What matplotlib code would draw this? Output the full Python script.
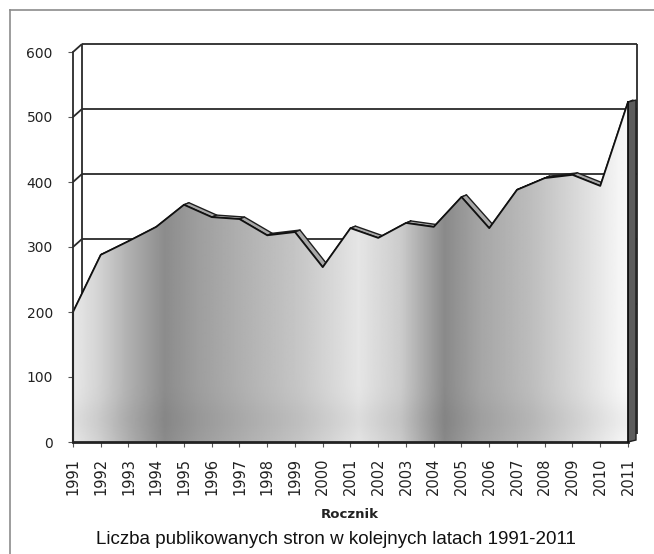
import numpy as np
import matplotlib
matplotlib.use("Agg")
import matplotlib.pyplot as plt
from matplotlib.patches import Polygon

# ---- data ----
years = list(range(1991, 2012))
pages = [200, 288, 309, 331, 365, 346, 343, 318, 323, 269, 329,
         314, 337, 331, 377, 329, 388, 406, 411, 394, 523]
y_ticks = [0, 100, 200, 300, 400, 500, 600]
x_label = "Rocznik"
caption = "Liczba publikowanych stron w kolejnych latach 1991-2011"

# ---- figure ----
W, H = 654, 554
fig = plt.figure(figsize=(W / 100, H / 100), dpi=100)
fig.patch.set_facecolor("white")

x0_px, x1_px, y0_px, y1_px = 73, 628, 442, 52
ax = fig.add_axes([x0_px / W, 1 - y0_px / H, (x1_px - x0_px) / W, (y0_px - y1_px) / H])
ax.set_xlim(years[0], years[-1])
ax.set_ylim(0, 600)
ax.set_facecolor("none")
for s in ax.spines.values():
    s.set_visible(False)

px_x = (x1_px - x0_px) / (years[-1] - years[0])   # px per year
px_y = (y0_px - y1_px) / 600.0                    # px per unit

# 3D offsets
dxw, dyw = 9 / px_x, 8 / px_y     # back wall
dxs, dys = 5 / px_x, 2 / px_y     # series depth (top ribbon)
dxf = 8 / px_x                    # right side face width

xs = np.array(years, dtype=float)
vs = np.array(pages, dtype=float)
xa, xb = xs[0], xs[-1]

wall_kw = dict(color="#2a2a2a", lw=1.3, zorder=1, clip_on=False, solid_capstyle="butt")
# back wall gridlines
for t in y_ticks[1:]:
    ax.plot([xa + dxw, xb + dxw], [t + dyw, t + dyw], **wall_kw)
    ax.plot([xa, xa + dxw], [t, t + dyw], **wall_kw)
ax.plot([xa + dxw, xa + dxw], [dyw, 600 + dyw], **wall_kw)
ax.plot([xb + dxw, xb + dxw], [dyw, 600 + dyw], **wall_kw)
# front axis line
ax.plot([xa, xa], [0, 600], color="#2a2a2a", lw=1.3, zorder=5, clip_on=False)

# top ribbon of the series
for i in range(len(xs) - 1):
    quad = [(xs[i], vs[i]), (xs[i + 1], vs[i + 1]),
            (xs[i + 1] + dxs, vs[i + 1] + dys), (xs[i] + dxs, vs[i] + dys)]
    ax.add_patch(Polygon(quad, closed=True, facecolor="#a8a8a8", edgecolor="#1e1e1e",
                         lw=1.0, zorder=2, clip_on=False, joinstyle="round"))

# right side face
side = [(xb, vs[-1]), (xb + dxf, vs[-1] + dys), (xb + dxf, dys), (xb, 0)]
ax.add_patch(Polygon(side, closed=True, facecolor="#5c5c5c", edgecolor="#1e1e1e",
                     lw=1.0, zorder=2, clip_on=False))

# front face with horizontal gradient
area = [(xa, 0)] + list(zip(xs, vs)) + [(xb, 0)]
poly = Polygon(area, closed=True, facecolor="none", edgecolor="none", zorder=3)
ax.add_patch(poly)
stops_x = [1991.0, 1991.9, 1993.0, 1994.3, 1995.5, 1997.3, 1999.2, 2001.3,
           2002.8, 2004.4, 2005.7, 2007.5, 2009.3, 2010.7, 2011.0]
stops_v = [0.91, 0.83, 0.69, 0.55, 0.62, 0.70, 0.78, 0.90,
           0.80, 0.54, 0.65, 0.74, 0.86, 0.96, 0.97]
gx = np.linspace(xa, xb, 600)
gv = np.interp(gx, stops_x, stops_v)
gy = np.linspace(0, 1, 60)
img = gv[None, :] * (1.0 - 0.04 * np.exp(-((gy[:, None] - 0.05) / 0.05) ** 2))
im = ax.imshow(img, extent=(xa, xb, 0, 600), origin="lower", aspect="auto",
               cmap="gray", vmin=0, vmax=1, zorder=3, interpolation="bilinear")
im.set_clip_path(poly)

# front outline
ax.plot(xs, vs, color="#111111", lw=1.3, zorder=4, clip_on=False, solid_joinstyle="round")
ax.plot([xa, xb], [0, 0], color="#222222", lw=2.0, zorder=4, clip_on=False)
ax.plot([xa, xa], [0, vs[0]], color="#111111", lw=1.5, zorder=4, clip_on=False)
ax.plot([xb, xb], [0, vs[-1]], color="#111111", lw=1.3, zorder=4, clip_on=False)

# ticks
ax.set_yticks(y_ticks)
ax.set_yticklabels([str(t) for t in y_ticks])
ax.set_xticks(years)
ax.set_xticklabels([str(y) for y in years], rotation=90)
ax.tick_params(axis="y", direction="out", length=3.5, width=0.8, color="#555555",
               pad=11, labelsize=10, labelcolor="#222222")
ax.tick_params(axis="x", direction="out", length=3.5, width=0.8, color="#555555",
               pad=8, labelsize=10.5, labelcolor="#222222")

fig.text(350 / W, 1 - 514 / H, x_label, ha="center", va="center",
         fontsize=9.5, fontweight="bold", color="#222222")
fig.text(336 / W, 1 - 540 / H, caption, ha="center", va="center",
         fontsize=13.5, family="Liberation Sans", color="#111111")

# outer frame (left and top)
fig.add_artist(plt.Line2D([10 / W, 10 / W], [0, 1 - 10 / H], transform=fig.transFigure,
                          color="#8c8c8c", lw=1.2))
fig.add_artist(plt.Line2D([10 / W, 1], [1 - 10 / H, 1 - 10 / H], transform=fig.transFigure,
                          color="#8c8c8c", lw=1.2))

fig.savefig("out.png", dpi=100, facecolor="white")
